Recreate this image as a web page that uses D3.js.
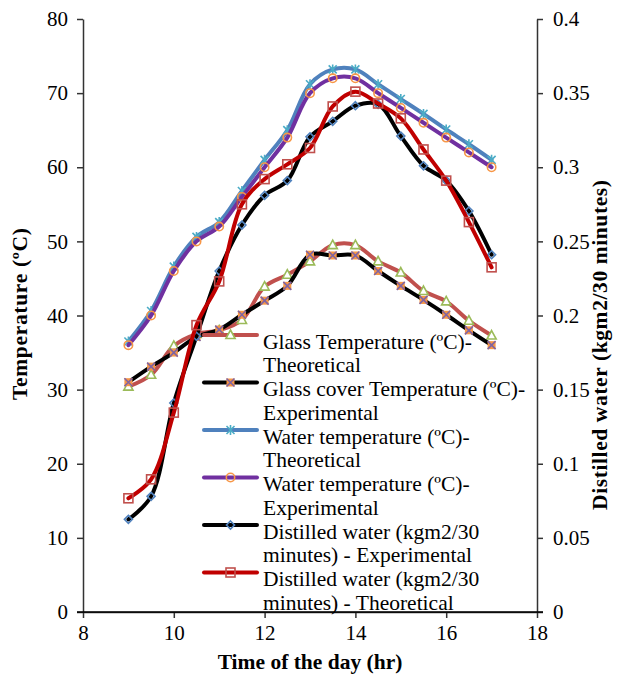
<!DOCTYPE html>
<html><head><meta charset="utf-8">
<script src="https://cdn.jsdelivr.net/npm/d3@7/dist/d3.min.js"></script>
<style>
body{margin:0;background:#fff;}
svg{display:block;font-family:"Liberation Serif","Times New Roman",serif;}
</style></head>
<body><svg id="c" width="623" height="679"></svg>
<script>
const hours = [9, 9.5, 10, 10.5, 11, 11.5, 12, 12.5, 13, 13.5, 14, 14.5, 15, 15.5, 16, 16.5, 17];
const glassTheoretical = [30.4, 32.0, 35.9, 37.5, 38.0, 39.4, 43.9, 45.5, 47.3, 49.5, 49.5, 47.3, 45.8, 43.3, 41.9, 39.3, 37.3];
const glassCoverExperimental = [31.0, 33.1, 35.0, 37.1, 38.1, 40.1, 42.0, 44.0, 48.2, 48.1, 48.1, 46.0, 44.0, 42.1, 40.1, 38.0, 36.0];
const waterTheoretical = [36.5, 40.6, 46.6, 50.6, 52.6, 56.8, 61.0, 65.0, 71.2, 73.2, 73.2, 71.2, 69.2, 67.2, 65.1, 63.1, 61.0];
const waterExperimental = [36.0, 40.0, 46.0, 50.0, 52.0, 56.0, 60.0, 64.0, 70.0, 72.0, 72.0, 70.0, 68.0, 66.0, 64.0, 62.0, 60.0];
const distilledExperimental = [0.0625, 0.078, 0.141, 0.186, 0.23, 0.261, 0.281, 0.291, 0.3205, 0.331, 0.3415, 0.3425, 0.321, 0.301, 0.291, 0.2705, 0.241];
const distilledTheoretical = [0.0767, 0.0895, 0.1345, 0.1935, 0.223, 0.275, 0.292, 0.302, 0.313, 0.341, 0.351, 0.343, 0.333, 0.312, 0.291, 0.263, 0.2325];
const xTicks = [8, 10, 12, 14, 16, 18];
const yLeftTicks = [0, 10, 20, 30, 40, 50, 60, 70, 80];
const yRightTicks = [0, 0.05, 0.1, 0.15, 0.2, 0.25, 0.3, 0.35, 0.4];
const seriesNames = [
  ["Glass Temperature (ºC)-", "Theoretical"],
  ["Glass cover Temperature (ºC)-", "Experimental"],
  ["Water temperature (ºC)-", "Theoretical"],
  ["Water temperature (ºC)-", "Experimental"],
  ["Distilled water (kgm2/30", "minutes) - Experimental"],
  ["Distilled water (kgm2/30", "minutes) - Theoretical"]
];

const svg = d3.select("#c");
const L = 83, R = 537, T = 19, B = 612;
const x = d3.scaleLinear().domain([8, 18]).range([L, R]);
const yL = d3.scaleLinear().domain([0, 80]).range([B, T]);
const yR = d3.scaleLinear().domain([0, 0.4]).range([B, T]);

// axes
const fs = 21;
const gx = svg.append("g").attr("transform", `translate(0,${B})`)
  .call(d3.axisBottom(x).tickValues(xTicks).tickSize(6).tickSizeOuter(0).tickFormat(d3.format("d")));
gx.selectAll("text").attr("y", 13).attr("dy", "0.71em");
const gyl = svg.append("g").attr("transform", `translate(${L},0)`)
  .call(d3.axisLeft(yL).tickValues(yLeftTicks).tickSize(6).tickSizeOuter(0).tickFormat(d3.format("d")));
gyl.selectAll("text").attr("x", -15);
const gyr = svg.append("g").attr("transform", `translate(${R},0)`)
  .call(d3.axisRight(yR).tickValues(yRightTicks).tickSize(6).tickSizeOuter(0).tickFormat(d => String(d)));
gyr.selectAll("text").attr("x", 16);
svg.append("line").attr("x1", L - 6).attr("x2", R + 6).attr("y1", B).attr("y2", B).attr("stroke", "#000").attr("stroke-width", 1.5);
[gx, gyl, gyr].forEach(g => {
  g.attr("font-family", null);
  g.selectAll("text").attr("font-size", fs).attr("font-family", "Liberation Serif").attr("fill", "#000");
  g.selectAll("line,path").attr("stroke", "#333").attr("stroke-width", 1.5);
});

// titles
svg.append("text").attr("x", 310).attr("y", 669).attr("text-anchor", "middle")
  .attr("font-weight", "bold").attr("font-size", 21.5).text("Time of the day (hr)");
svg.append("text").attr("transform", "translate(27,314) rotate(-90)").attr("text-anchor", "middle")
  .attr("font-weight", "bold").attr("font-size", 21.5)
  .attr("textLength", 172).attr("lengthAdjust", "spacing").text("Temperature (ºC)");
svg.append("text").attr("transform", "translate(607,345) rotate(-90)").attr("text-anchor", "middle")
  .attr("font-weight", "bold").attr("font-size", 21.5)
  .attr("textLength", 330).attr("lengthAdjust", "spacing").text("Distilled water (kgm2/30 minutes)");

// markers
function marker(g, type, cx, cy) {
  if (type === "tri") {
    g.append("path").attr("d", `M${cx},${cy-5}L${cx+4.6},${cy+3.5}L${cx-4.6},${cy+3.5}Z`)
      .attr("fill", "#fff").attr("stroke", "#9BBB59").attr("stroke-width", 1.6);
  } else if (type === "x") {
    g.append("rect").attr("x", cx-4).attr("y", cy-4).attr("width", 8).attr("height", 8).attr("fill", "#F79646");
    g.append("path").attr("d", `M${cx-4},${cy-4}L${cx+4},${cy+4}M${cx+4},${cy-4}L${cx-4},${cy+4}`)
      .attr("stroke", "#8064A2").attr("stroke-width", 1.6);
  } else if (type === "star") {
    g.append("path").attr("d", `M${cx-4},${cy-4}L${cx+4},${cy+4}M${cx+4},${cy-4}L${cx-4},${cy+4}M${cx},${cy-5}L${cx},${cy+5}`)
      .attr("stroke", "#4BACC6").attr("stroke-width", 1.6);
  } else if (type === "circ") {
    g.append("circle").attr("cx", cx).attr("cy", cy).attr("r", 4.2)
      .attr("fill", "none").attr("stroke", "#F79646").attr("stroke-width", 1.6);
  } else if (type === "diam") {
    g.append("path").attr("d", `M${cx},${cy-4}L${cx+4},${cy}L${cx},${cy+4}L${cx-4},${cy}Z`)
      .attr("fill", "none").attr("stroke", "#4F81BD").attr("stroke-width", 1.6);
  } else if (type === "sq") {
    g.append("rect").attr("x", cx-4.5).attr("y", cy-4.5).attr("width", 9).attr("height", 9)
      .attr("fill", "none").attr("stroke", "#C0504D").attr("stroke-width", 1.6);
  }
}

const series = [
  {vals: glassTheoretical, y: yL, color: "#C0504D", m: "tri"},
  {vals: glassCoverExperimental, y: yL, color: "#000000", m: "x"},
  {vals: waterTheoretical, y: yL, color: "#4F81BD", m: "star"},
  {vals: waterExperimental, y: yL, color: "#7030A0", m: "circ"},
  {vals: distilledExperimental, y: yR, color: "#000000", m: "diam"},
  {vals: distilledTheoretical, y: yR, color: "#C00000", m: "sq"}
];

const plot = svg.append("g");
series.forEach(s => {
  const line = d3.line().x((d, i) => x(hours[i])).y(d => s.y(d)).curve(d3.curveCatmullRom.alpha(0.5));
  const g = plot.append("g");
  g.append("path").datum(s.vals).attr("d", line).attr("fill", "none")
    .attr("stroke", s.color).attr("stroke-width", 4).attr("stroke-linejoin", "round").attr("stroke-linecap", "round");
  s.vals.forEach((v, i) => marker(g, s.m, x(hours[i]), s.y(v)));
});

// legend
const lg = svg.append("g");
series.forEach((s, k) => {
  const ly = 335 + k * 47.5;
  lg.append("line").attr("x1", 204).attr("x2", 257).attr("y1", ly).attr("y2", ly)
    .attr("stroke", s.color).attr("stroke-width", 4).attr("stroke-linecap", "round");
  marker(lg, s.m, 230.5, ly);
  seriesNames[k].forEach((t, j) => {
    lg.append("text").attr("x", 263).attr("y", ly + 13.5 + j * 23.5).attr("font-size", 21.5).attr("fill", "#000").text(t);
  });
});
</script></body></html>
